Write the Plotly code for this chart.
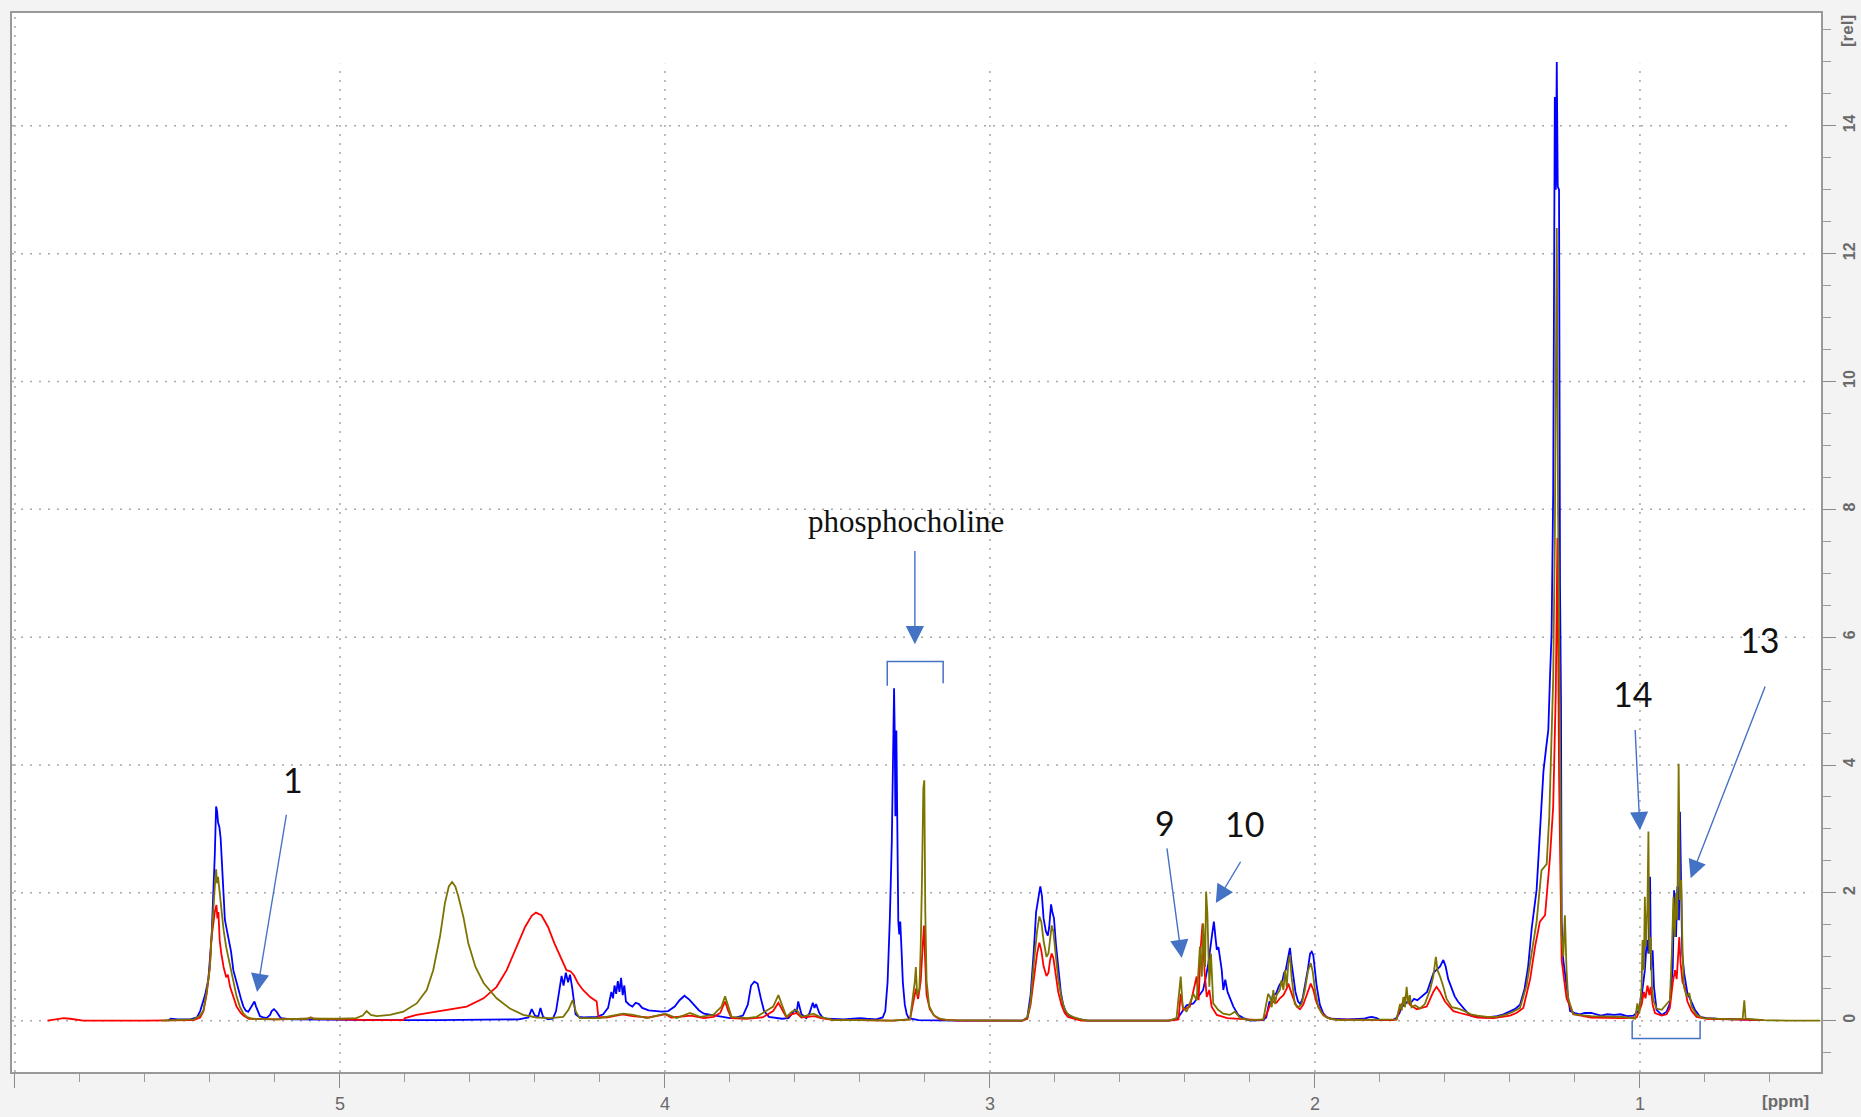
import plotly.graph_objects as go

# ---------------- data (ppm, relative intensity) ----------------
BLUE = [(5.53,0.0),(5.52,0.03),(5.50,0.02),(5.46,0.02),(5.44,0.05),(5.43,0.15),(5.415,0.40),(5.405,0.64),(5.395,1.30),(5.39,1.89),(5.385,2.60),(5.381,3.35),(5.378,3.28),(5.375,3.10),(5.371,3.03),(5.367,2.85),(5.364,2.51),(5.36,2.10),(5.354,1.58),(5.348,1.42),(5.344,1.30),(5.34,1.21),(5.335,1.08),(5.328,0.79),(5.32,0.62),(5.313,0.48),(5.305,0.35),(5.297,0.22),(5.29,0.16),(5.282,0.14),(5.275,0.20),(5.268,0.28),(5.263,0.30),(5.258,0.22),(5.25,0.10),(5.246,0.07),(5.235,0.05),(5.226,0.04),(5.215,0.09),(5.21,0.15),(5.203,0.18),(5.195,0.14),(5.185,0.06),(5.18,0.04),(5.15,0.02),(5.0,0.01),(4.85,0.01),(4.70,0.01),(4.55,0.02),(4.45,0.02),(4.42,0.05),(4.41,0.18),(4.40,0.08),(4.39,0.06),(4.383,0.20),(4.375,0.06),(4.36,0.02),(4.345,0.03),(4.335,0.15),(4.325,0.45),(4.318,0.70),(4.312,0.55),(4.305,0.75),(4.298,0.60),(4.292,0.72),(4.285,0.50),(4.28,0.30),(4.275,0.10),(4.265,0.06),(4.25,0.05),(4.21,0.06),(4.19,0.10),(4.175,0.20),(4.165,0.45),(4.16,0.35),(4.155,0.55),(4.15,0.42),(4.145,0.62),(4.14,0.45),(4.135,0.67),(4.13,0.40),(4.125,0.55),(4.12,0.30),(4.11,0.25),(4.10,0.22),(4.09,0.28),(4.08,0.26),(4.07,0.20),(4.05,0.16),(4.03,0.15),(4.01,0.14),(3.99,0.15),(3.97,0.22),(3.955,0.32),(3.94,0.39),(3.925,0.33),(3.91,0.24),(3.895,0.16),(3.88,0.11),(3.86,0.09),(3.84,0.07),(3.82,0.05),(3.80,0.04),(3.78,0.05),(3.76,0.08),(3.745,0.25),(3.735,0.55),(3.725,0.61),(3.715,0.58),(3.705,0.35),(3.695,0.15),(3.68,0.06),(3.66,0.04),(3.64,0.03),(3.62,0.04),(3.61,0.10),(3.60,0.18),(3.595,0.12),(3.59,0.30),(3.585,0.20),(3.58,0.10),(3.565,0.04),(3.555,0.12),(3.545,0.28),(3.54,0.20),(3.535,0.26),(3.525,0.12),(3.515,0.05),(3.50,0.03),(3.45,0.02),(3.41,0.03),(3.40,0.04),(3.38,0.03),(3.35,0.02),(3.33,0.05),(3.322,0.15),(3.315,0.60),(3.308,1.60),(3.302,2.80),(3.298,4.80),(3.295,5.20),(3.293,4.50),(3.291,3.20),(3.288,4.54),(3.285,3.00),(3.282,1.55),(3.279,1.35),(3.276,1.55),(3.272,1.10),(3.268,0.60),(3.262,0.25),(3.256,0.10),(3.25,0.04),(3.22,0.01),(3.10,0.0),(2.90,0.0),(2.885,0.05),(2.875,0.40),(2.865,1.10),(2.858,1.70),(2.85,1.95),(2.845,2.10),(2.84,1.95),(2.835,1.60),(2.828,1.40),(2.822,1.33),(2.818,1.45),(2.812,1.82),(2.808,1.70),(2.803,1.60),(2.797,1.20),(2.79,0.80),(2.782,0.45),(2.775,0.25),(2.765,0.12),(2.75,0.06),(2.73,0.03),(2.70,0.0),(2.45,0.0),(2.425,0.02),(2.415,0.09),(2.395,0.24),(2.374,0.27),(2.359,0.37),(2.344,0.48),(2.335,0.70),(2.328,0.90),(2.318,1.29),(2.311,1.55),(2.306,1.30),(2.302,1.11),(2.297,1.15),(2.292,0.95),(2.287,0.80),(2.282,0.48),(2.276,0.64),(2.269,0.45),(2.262,0.37),(2.256,0.30),(2.251,0.22),(2.236,0.09),(2.22,0.04),(2.20,0.0),(2.16,0.01),(2.15,0.05),(2.145,0.20),(2.14,0.30),(2.135,0.25),(2.13,0.40),(2.12,0.42),(2.11,0.55),(2.10,0.63),(2.095,0.75),(2.09,0.79),(2.085,0.95),(2.08,1.05),(2.077,1.14),(2.072,0.90),(2.066,0.70),(2.06,0.45),(2.052,0.30),(2.045,0.26),(2.038,0.35),(2.03,0.55),(2.022,0.80),(2.015,1.05),(2.01,1.08),(2.005,1.02),(2.0,0.80),(1.995,0.55),(1.985,0.25),(1.975,0.12),(1.965,0.06),(1.95,0.03),(1.90,0.02),(1.85,0.03),(1.835,0.05),(1.825,0.06),(1.81,0.04),(1.80,0.01),(1.76,0.01),(1.75,0.04),(1.74,0.12),(1.735,0.20),(1.725,0.25),(1.715,0.30),(1.705,0.28),(1.695,0.34),(1.685,0.32),(1.675,0.36),(1.665,0.40),(1.655,0.45),(1.645,0.60),(1.635,0.75),(1.625,0.80),(1.615,0.85),(1.605,0.95),(1.598,0.85),(1.59,0.65),(1.58,0.50),(1.57,0.38),(1.56,0.30),(1.55,0.24),(1.54,0.18),(1.53,0.12),(1.52,0.08),(1.50,0.06),(1.47,0.05),(1.44,0.07),(1.42,0.10),(1.40,0.14),(1.385,0.18),(1.369,0.25),(1.355,0.50),(1.344,0.85),(1.333,1.45),(1.318,2.05),(1.308,2.95),(1.297,3.90),(1.288,4.30),(1.282,4.55),(1.277,5.35),(1.272,6.05),(1.267,8.25),(1.262,14.45),(1.259,13.0),(1.256,15.0),(1.253,13.05),(1.249,13.0),(1.246,6.8),(1.243,5.0),(1.241,1.55),(1.236,0.95),(1.226,0.55),(1.22,0.30),(1.215,0.15),(1.20,0.12),(1.185,0.10),(1.17,0.12),(1.15,0.12),(1.12,0.08),(1.10,0.10),(1.08,0.09),(1.06,0.10),(1.04,0.07),(1.02,0.08),(1.005,0.15),(0.995,0.38),(0.985,0.79),(0.979,1.26),(0.974,1.05),(0.969,2.25),(0.966,0.79),(0.961,1.10),(0.957,0.53),(0.949,0.17),(0.933,0.09),(0.918,0.14),(0.908,0.27),(0.899,0.84),(0.895,2.04),(0.889,1.31),(0.885,2.10),(0.88,1.57),(0.877,3.27),(0.874,2.10),(0.87,1.05),(0.864,0.74),(0.854,0.43),(0.844,0.32),(0.831,0.17),(0.815,0.06),(0.795,0.04),(0.764,0.03),(0.692,0.02),(0.62,0.01)]

RED = [(5.90,0.0),(5.87,0.02),(5.85,0.04),(5.83,0.03),(5.81,0.02),(5.79,0.0),(5.60,0.0),(5.48,0.0),(5.45,0.01),(5.43,0.05),(5.42,0.15),(5.41,0.42),(5.40,0.85),(5.396,1.26),(5.39,1.55),(5.385,1.70),(5.38,1.81),(5.377,1.60),(5.374,1.70),(5.37,1.26),(5.365,1.05),(5.358,0.84),(5.35,0.68),(5.345,0.72),(5.338,0.53),(5.33,0.40),(5.318,0.22),(5.305,0.12),(5.297,0.08),(5.28,0.03),(5.20,0.02),(5.10,0.03),(5.09,0.05),(5.08,0.03),(5.0,0.02),(4.90,0.01),(4.805,0.01),(4.80,0.04),(4.764,0.09),(4.713,0.13),(4.66,0.17),(4.61,0.22),(4.558,0.35),(4.518,0.53),(4.487,0.79),(4.456,1.16),(4.43,1.47),(4.41,1.64),(4.397,1.69),(4.38,1.65),(4.36,1.47),(4.34,1.21),(4.318,0.95),(4.303,0.79),(4.29,0.77),(4.28,0.71),(4.267,0.58),(4.252,0.48),(4.23,0.37),(4.21,0.30),(4.205,0.06),(4.18,0.05),(4.15,0.08),(4.13,0.10),(4.10,0.07),(4.05,0.05),(4.0,0.10),(3.98,0.05),(3.92,0.08),(3.88,0.04),(3.85,0.06),(3.83,0.12),(3.815,0.30),(3.805,0.15),(3.795,0.04),(3.75,0.03),(3.70,0.05),(3.667,0.15),(3.651,0.28),(3.638,0.15),(3.626,0.05),(3.61,0.10),(3.595,0.12),(3.58,0.05),(3.54,0.07),(3.52,0.04),(3.48,0.01),(3.40,0.01),(3.30,0.0),(3.246,0.02),(3.236,0.29),(3.228,0.50),(3.221,0.34),(3.213,0.62),(3.207,1.16),(3.203,1.49),(3.199,0.89),(3.195,0.40),(3.185,0.18),(3.17,0.07),(3.154,0.02),(3.10,0.0),(2.90,0.0),(2.885,0.03),(2.875,0.25),(2.865,0.70),(2.855,1.05),(2.848,1.22),(2.842,1.10),(2.835,0.85),(2.826,0.70),(2.82,0.75),(2.815,0.95),(2.81,1.05),(2.805,0.98),(2.797,0.70),(2.79,0.45),(2.78,0.25),(2.77,0.12),(2.76,0.06),(2.74,0.03),(2.72,0.0),(2.45,0.0),(2.42,0.02),(2.413,0.42),(2.405,0.17),(2.385,0.22),(2.364,0.69),(2.358,0.32),(2.352,1.11),(2.346,1.52),(2.340,0.79),(2.333,0.37),(2.325,0.48),(2.318,0.22),(2.302,0.09),(2.27,0.04),(2.22,0.02),(2.17,0.01),(2.159,0.02),(2.149,0.10),(2.138,0.25),(2.128,0.30),(2.118,0.28),(2.108,0.35),(2.097,0.40),(2.087,0.50),(2.082,0.58),(2.077,0.50),(2.067,0.35),(2.056,0.22),(2.046,0.18),(2.036,0.25),(2.026,0.40),(2.018,0.52),(2.013,0.58),(2.005,0.48),(1.995,0.28),(1.979,0.12),(1.964,0.05),(1.943,0.02),(1.80,0.01),(1.76,0.01),(1.749,0.02),(1.738,0.20),(1.728,0.30),(1.718,0.42),(1.708,0.25),(1.687,0.18),(1.656,0.22),(1.636,0.45),(1.626,0.53),(1.615,0.45),(1.60,0.30),(1.574,0.15),(1.554,0.12),(1.54,0.10),(1.50,0.05),(1.45,0.04),(1.40,0.08),(1.38,0.12),(1.359,0.20),(1.338,0.65),(1.323,1.15),(1.308,1.55),(1.292,1.65),(1.277,2.55),(1.267,3.35),(1.259,5.15),(1.254,7.55),(1.249,3.85),(1.246,2.35),(1.241,0.95),(1.226,0.35),(1.205,0.10),(1.15,0.05),(1.05,0.04),(1.01,0.05),(0.995,0.25),(0.988,0.45),(0.983,0.35),(0.977,0.55),(0.971,0.40),(0.967,0.53),(0.961,0.25),(0.954,0.12),(0.933,0.08),(0.918,0.10),(0.908,0.20),(0.899,0.60),(0.892,0.79),(0.887,0.65),(0.882,1.00),(0.879,1.31),(0.875,0.90),(0.869,0.60),(0.862,0.53),(0.854,0.30),(0.841,0.15),(0.826,0.06),(0.795,0.03),(0.62,0.01)]

OLIVE = [(5.55,0.0),(5.50,0.01),(5.45,0.02),(5.43,0.08),(5.42,0.16),(5.41,0.45),(5.40,0.84),(5.395,1.30),(5.39,1.78),(5.385,2.10),(5.381,2.37),(5.378,2.15),(5.375,2.25),(5.37,1.99),(5.365,1.70),(5.358,1.42),(5.35,1.15),(5.342,0.95),(5.335,0.75),(5.328,0.58),(5.318,0.38),(5.308,0.22),(5.298,0.12),(5.287,0.06),(5.27,0.03),(5.20,0.02),(5.10,0.03),(5.09,0.05),(5.08,0.03),(5.0,0.03),(4.95,0.04),(4.93,0.08),(4.918,0.15),(4.905,0.09),(4.887,0.07),(4.846,0.09),(4.805,0.14),(4.764,0.27),(4.733,0.48),(4.713,0.79),(4.692,1.32),(4.677,1.84),(4.665,2.10),(4.655,2.17),(4.645,2.10),(4.636,1.95),(4.62,1.62),(4.605,1.21),(4.583,0.84),(4.558,0.59),(4.518,0.35),(4.477,0.19),(4.436,0.09),(4.395,0.05),(4.354,0.04),(4.313,0.06),(4.297,0.17),(4.284,0.32),(4.274,0.14),(4.262,0.04),(4.20,0.04),(4.149,0.09),(4.128,0.11),(4.097,0.09),(4.056,0.04),(3.999,0.11),(3.964,0.04),(3.923,0.12),(3.892,0.06),(3.851,0.09),(3.826,0.22),(3.815,0.38),(3.805,0.22),(3.795,0.06),(3.749,0.04),(3.718,0.06),(3.667,0.22),(3.651,0.40),(3.638,0.22),(3.626,0.06),(3.61,0.14),(3.595,0.17),(3.579,0.06),(3.543,0.11),(3.523,0.06),(3.482,0.01),(3.40,0.01),(3.30,0.0),(3.246,0.02),(3.236,0.40),(3.231,0.62),(3.228,0.84),(3.224,0.40),(3.217,0.50),(3.213,1.16),(3.209,2.26),(3.205,3.64),(3.202,3.76),(3.199,1.71),(3.195,0.62),(3.187,0.23),(3.174,0.09),(3.154,0.03),(3.13,0.01),(3.0,0.0),(2.90,0.0),(2.885,0.05),(2.875,0.30),(2.865,0.90),(2.855,1.40),(2.848,1.63),(2.842,1.55),(2.835,1.25),(2.826,1.0),(2.82,1.05),(2.815,1.30),(2.81,1.49),(2.805,1.40),(2.797,1.0),(2.79,0.65),(2.78,0.35),(2.77,0.18),(2.76,0.10),(2.74,0.05),(2.72,0.02),(2.70,0.0),(2.45,0.0),(2.426,0.04),(2.413,0.69),(2.407,0.22),(2.395,0.14),(2.374,0.42),(2.364,0.32),(2.354,1.16),(2.348,0.69),(2.344,1.52),(2.338,0.84),(2.335,2.02),(2.331,1.68),(2.325,0.53),(2.32,1.05),(2.313,0.27),(2.298,0.17),(2.282,0.11),(2.262,0.09),(2.246,0.14),(2.23,0.04),(2.20,0.01),(2.159,0.02),(2.149,0.26),(2.144,0.42),(2.138,0.37),(2.133,0.21),(2.128,0.48),(2.123,0.26),(2.118,0.40),(2.108,0.48),(2.103,0.63),(2.097,0.48),(2.092,0.79),(2.087,0.53),(2.082,0.90),(2.077,1.03),(2.072,0.69),(2.067,0.42),(2.062,0.26),(2.051,0.21),(2.041,0.26),(2.031,0.48),(2.021,0.79),(2.013,0.90),(2.007,0.77),(2.0,0.48),(1.99,0.21),(1.974,0.08),(1.954,0.03),(1.923,0.01),(1.76,0.01),(1.749,0.02),(1.738,0.26),(1.733,0.16),(1.728,0.37),(1.723,0.21),(1.718,0.53),(1.713,0.26),(1.708,0.40),(1.703,0.21),(1.692,0.24),(1.677,0.19),(1.662,0.26),(1.646,0.48),(1.636,0.69),(1.628,1.00),(1.623,0.79),(1.615,0.69),(1.605,0.53),(1.595,0.34),(1.579,0.21),(1.559,0.19),(1.54,0.15),(1.52,0.10),(1.50,0.08),(1.47,0.06),(1.44,0.06),(1.41,0.10),(1.39,0.14),(1.369,0.20),(1.349,0.55),(1.333,1.05),(1.318,1.55),(1.303,2.35),(1.287,2.45),(1.279,3.20),(1.272,4.35),(1.267,5.35),(1.262,7.55),(1.256,12.4),(1.252,8.0),(1.246,4.35),(1.241,1.35),(1.236,1.0),(1.231,1.65),(1.226,0.80),(1.221,0.35),(1.205,0.10),(1.15,0.07),(1.05,0.06),(1.015,0.03),(1.008,0.27),(1.002,0.11),(0.995,0.53),(0.992,1.26),(0.988,0.79),(0.985,1.94),(0.982,1.16),(0.977,1.78),(0.974,2.96),(0.971,1.05),(0.967,1.31),(0.963,0.53),(0.959,0.32),(0.949,0.19),(0.933,0.17),(0.918,0.27),(0.908,0.32),(0.902,1.05),(0.897,1.94),(0.893,1.31),(0.889,2.00),(0.885,1.57),(0.881,4.02),(0.877,1.89),(0.873,2.20),(0.869,1.10),(0.865,0.53),(0.856,0.38),(0.848,0.43),(0.841,0.22),(0.826,0.09),(0.805,0.04),(0.713,0.02),(0.684,0.03),(0.679,0.32),(0.675,0.03),(0.62,0.01),(0.55,0.0),(0.445,0.0)]

SERIES_COLORS = {"blue": "#0000ff", "red": "#ff0000", "olive": "#7d7300"}

X_TICK_VALS = [6, 5, 4, 3, 2, 1]
X_TICK_TEXT = ["", "5", "4", "3", "2", "1"]
Y_TICK_VALS = [0, 2, 4, 6, 8, 10, 12, 14]
X_RANGE = [6.009, 0.443]
Y_RANGE = [-0.803, 15.765]

# peak labels: text, ppm, intensity
LABEL_TEXT = ["1", "9", "10", "14", "13"]
LABEL_PPM = [5.145, 2.460, 2.218, 1.024, 0.631]
LABEL_VAL = [3.77, 3.10, 3.09, 5.12, 5.96]
# arrows: tail (ppm, val) -> tip (ppm, val)
ARROW_TAIL_PPM = [5.164, 2.456, 2.226, 1.015, 0.613, 3.231]
ARROW_TAIL_VAL = [3.245, 2.72, 2.51, 4.57, 5.25, 7.37]
ARROW_TIP_PPM = [5.255, 2.410, 2.305, 1.000, 0.844, 3.231]
ARROW_TIP_VAL = [0.45, 0.98, 1.84, 2.98, 2.23, 5.89]

fig = go.Figure()
for name, data in [("blue", BLUE), ("red", RED), ("olive", OLIVE)]:
    fig.add_trace(go.Scatter(
        x=[p for p, v in data], y=[v for p, v in data], mode="lines",
        line=dict(color=SERIES_COLORS[name], width=1.8), showlegend=False,
        hoverinfo="skip"))

grid_line = dict(color="#a8a8a8", width=1.5, dash="2px,7px")
shapes = []
for xv in X_TICK_VALS:
    top = Y_RANGE[1] if xv == 6 else 14.97
    shapes.append(dict(type="line", xref="x", yref="y", x0=xv, x1=xv,
                       y0=Y_RANGE[0], y1=top, line=grid_line, layer="below"))
for yv in Y_TICK_VALS:
    right = 0.53 if yv == 14 else 0.47
    shapes.append(dict(type="line", xref="x", yref="y", x0=X_RANGE[0], x1=right,
                       y0=yv, y1=yv, line=grid_line, layer="below"))
bracket = dict(color="#4472c4", width=1.5)
shapes.append(dict(type="path", xref="x", yref="y",
                   path="M 3.316 5.24 L 3.316 5.62 L 3.144 5.62 L 3.144 5.28",
                   line=bracket))
shapes.append(dict(type="path", xref="x", yref="y",
                   path="M 1.024 0 L 1.024 -0.28 L 0.815 -0.28 L 0.815 0",
                   line=bracket))

annotations = []
for t, xp, yv in zip(LABEL_TEXT, LABEL_PPM, LABEL_VAL):
    annotations.append(dict(x=xp, y=yv, xref="x", yref="y", text=t, showarrow=False,
                            xanchor="center", yanchor="middle",
                            font=dict(family="Lato, Liberation Sans, sans-serif", size=34, color="#111111")))
annotations.append(dict(x=3.259, y=7.81, xref="x", yref="y", text="phosphocholine",
                        showarrow=False, xanchor="center", yanchor="middle",
                        font=dict(family="Liberation Serif, Times New Roman, serif", size=31, color="#111111")))
for tx, ty, hx, hy in zip(ARROW_TAIL_PPM, ARROW_TAIL_VAL, ARROW_TIP_PPM, ARROW_TIP_VAL):
    annotations.append(dict(x=hx, y=hy, ax=tx, ay=ty, xref="x", yref="y", axref="x", ayref="y",
                            text="", showarrow=True, arrowhead=2, arrowsize=2.6,
                            arrowwidth=1.4, arrowcolor="#4472c4", standoff=0))
tick_font = dict(family="Liberation Sans Narrow, Arial Narrow, Liberation Sans, sans-serif", size=17, color="#6a6a6a")
annotations.append(dict(x=0.551, y=-0.0275, xref="x", yref="paper", text="<b>[ppm]</b>",
                        showarrow=False, xanchor="center", yanchor="middle", font=tick_font))
annotations.append(dict(x=1.0144, y=0.983, xref="paper", yref="paper", text="<b>[rel]</b>",
                        showarrow=False, textangle=-90, xanchor="center", yanchor="middle",
                        font=tick_font))

fig.update_layout(
    width=1861, height=1117,
    margin=dict(l=12, r=40, t=13, b=45, pad=0, autoexpand=False),
    paper_bgcolor="#f3f3f3", plot_bgcolor="#ffffff",
    shapes=shapes, annotations=annotations,
    xaxis=dict(range=X_RANGE, showgrid=False, zeroline=False, automargin=False,
               tickmode="array", tickvals=X_TICK_VALS, ticktext=X_TICK_TEXT,
               ticks="outside", ticklen=14, tickwidth=1.2, tickcolor="#8a8a8a",
               minor=dict(ticks="outside", dtick=0.2, tick0=0, ticklen=8, tickwidth=1, tickcolor="#9a9a9a"),
               showline=True, linecolor="#999999", linewidth=2, mirror=True,
               tickfont=dict(family="Liberation Sans Narrow, Arial Narrow, Liberation Sans, sans-serif", size=18, color="#6a6a6a"),
               tickprefix="<b>", ticksuffix="</b>"),
    yaxis=dict(range=Y_RANGE, side="right", showgrid=False, zeroline=False, automargin=False,
               tickmode="array", tickvals=Y_TICK_VALS,
               ticktext=["<b>%d</b>" % v for v in Y_TICK_VALS],
               ticks="outside", ticklen=13, tickwidth=1.2, tickcolor="#8a8a8a",
               minor=dict(ticks="outside", dtick=0.5, tick0=0, ticklen=8, tickwidth=1, tickcolor="#9a9a9a"),
               showline=True, linecolor="#999999", linewidth=2, mirror=True,
               tickangle=-90,
               tickfont=dict(family="Liberation Sans Narrow, Arial Narrow, Liberation Sans, sans-serif", size=16, color="#6a6a6a")),
)

fig.write_html("out.html", config={"displayModeBar": False},
               post_script="document.body.style.margin='0px';document.body.style.overflow='hidden';document.body.style.background='#f3f3f3';")
